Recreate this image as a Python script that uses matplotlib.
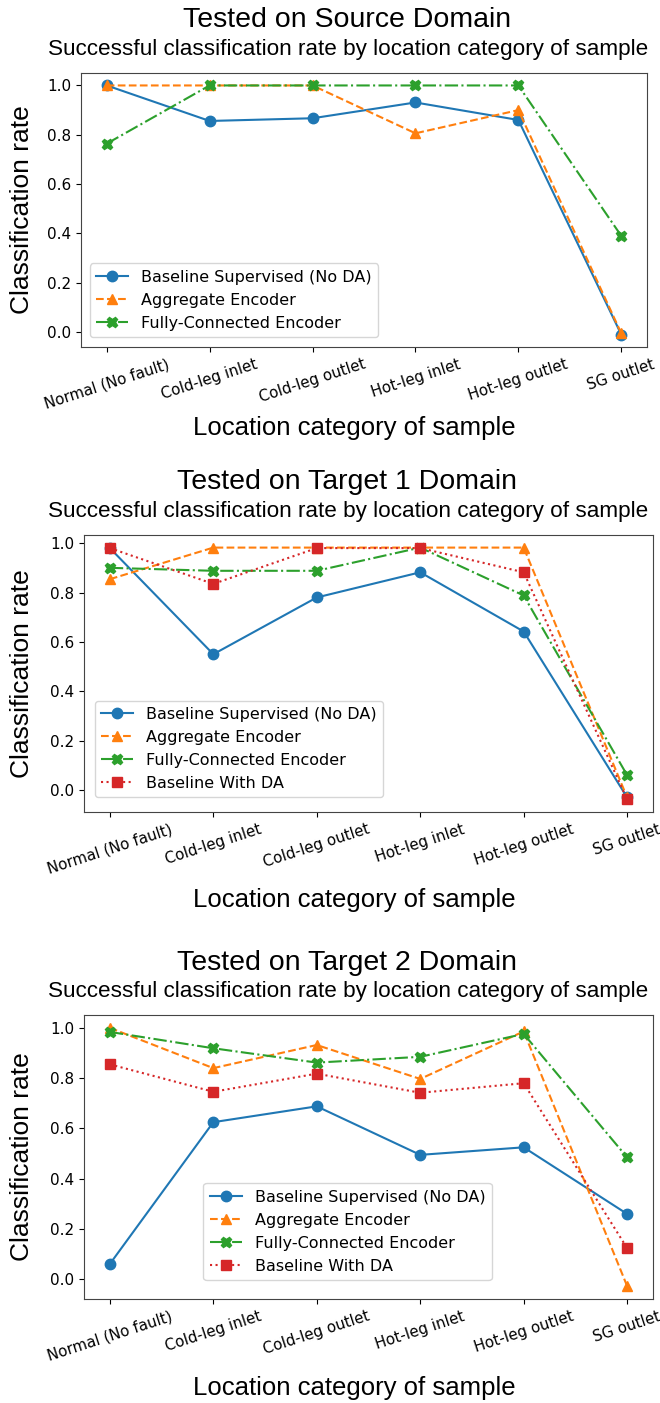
import matplotlib
matplotlib.use('Agg')
import matplotlib.pyplot as plt

# --- data ---
categories = ['Normal (No fault)', 'Cold-leg inlet', 'Cold-leg outlet',
              'Hot-leg inlet', 'Hot-leg outlet', 'SG outlet']

src_baseline = [1.0, 0.856, 0.867, 0.931, 0.86, -0.01]
src_aggregate = [1.0, 1.0, 1.0, 0.806, 0.90, -0.005]
src_fc = [0.764, 1.0, 1.0, 1.0, 1.0, 0.39]

t1_baseline = [0.98, 0.55, 0.78, 0.882, 0.642, -0.03]
t1_aggregate = [0.854, 0.982, 0.982, 0.982, 0.982, -0.03]
t1_fc = [0.90, 0.888, 0.888, 0.982, 0.788, 0.06]
t1_da = [0.98, 0.835, 0.98, 0.98, 0.882, -0.038]

t2_baseline = [0.061, 0.625, 0.688, 0.495, 0.525, 0.26]
t2_aggregate = [1.0, 0.84, 0.932, 0.797, 0.986, -0.027]
t2_fc = [0.984, 0.919, 0.862, 0.885, 0.976, 0.485]
t2_da = [0.855, 0.746, 0.818, 0.742, 0.78, 0.124]

W, H = 660, 1403
fig = plt.figure(figsize=(W / 100, H / 100), dpi=100)

sans = ['Liberation Sans', 'DejaVu Sans']
subtitle = 'Successful classification rate by location category of sample'


def add_ax(left, right, top, bottom):
    return fig.add_axes([left / W, 1 - bottom / H, (right - left) / W, (bottom - top) / H])


def ftext(x, y, s, **kw):
    # place text at pixel position (from top-left)
    fig.text(x / W, 1 - y / H, s, ha='center', va='center', family=sans, **kw)


def draw(ax, series, title, y_title, y_xlabel, legend_anchor):
    x = range(len(categories))
    styles = [
        ('Baseline Supervised (No DA)', '-', 'o', 'tab:blue'),
        ('Aggregate Encoder', '--', '^', 'tab:orange'),
        ('Fully-Connected Encoder', '-.', 'X', 'tab:green'),
        ('Baseline With DA', ':', 's', 'tab:red'),
    ]
    for vals, (lab, ls, mk, c) in zip(series, styles):
        ax.plot(x, vals, linestyle=ls, marker=mk, color=c, label=lab, markersize=7.5)
    ax.set_xticks(list(x))
    ax.set_xticklabels(categories, rotation=18, fontsize=10.8)
    ax.tick_params(axis='y', labelsize=11)
    for s in ax.spines.values():
        s.set_color('#444444')
    ax.legend(fontsize=11.5, loc='lower left', bbox_to_anchor=legend_anchor,
              borderaxespad=0)

    pos = ax.get_position()
    top = (1 - pos.y1) * H
    bottom = (1 - pos.y0) * H
    ftext(347, y_title, title, fontsize=20.5)
    ftext(348, y_title + 29, subtitle, fontsize=16.2)
    ftext(354, y_xlabel, 'Location category of sample', fontsize=18.5)
    ftext(22, (top + bottom) / 2, 'Classification rate', fontsize=19, rotation=90)


ax1 = add_ax(81, 647, 73, 347)
draw(ax1, [src_baseline, src_aggregate, src_fc], 'Tested on Source Domain',
     20, 428, (0.016, 0.036))

ax2 = add_ax(84, 653, 535, 812)
draw(ax2, [t1_baseline, t1_aggregate, t1_fc, t1_da], 'Tested on Target 1 Domain',
     482, 900, (0.019, 0.053))

ax3 = add_ax(84, 653, 1015, 1299)
draw(ax3, [t2_baseline, t2_aggregate, t2_fc, t2_da], 'Tested on Target 2 Domain',
     963, 1388, (0.21, 0.067))

fig.savefig('out.png', dpi=100)
